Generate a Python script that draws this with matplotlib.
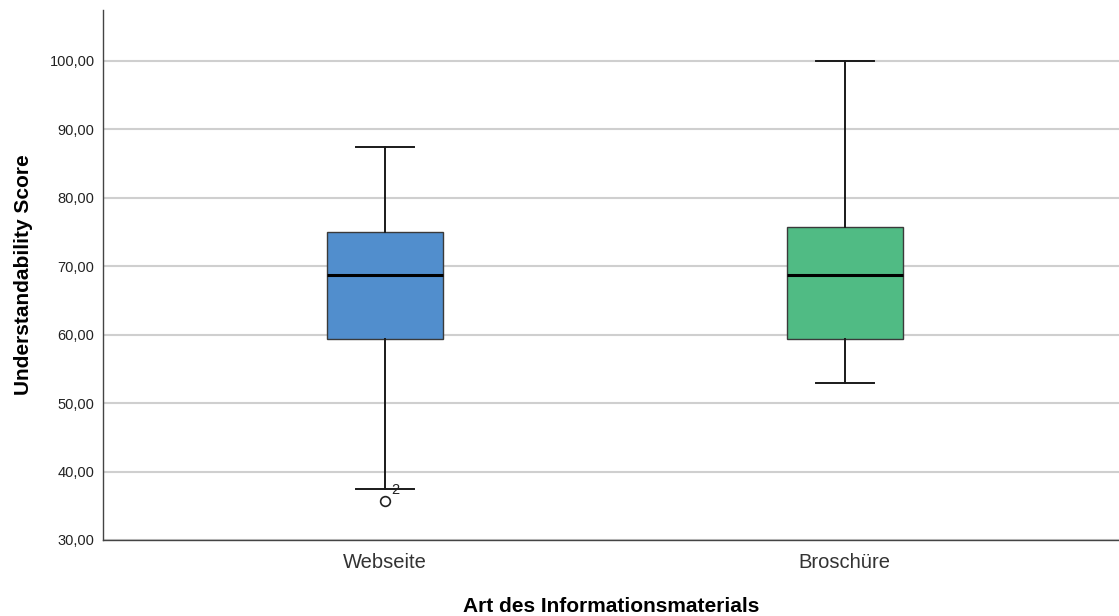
import numpy as np
import matplotlib.pyplot as plt

plt.rcParams['font.family'] = ['Liberation Sans', 'DejaVu Sans']

# Kennwerte der beiden Gruppen
gruppen = ['Webseite', 'Broschüre']
whisker_unten = [37.5, 52.94]
q1 = [59.375, 59.375]
median = [68.75, 68.75]
q3 = [75.0, 75.78]
whisker_oben = [87.5, 100.0]
ausreisser = [[35.71], []]
ausreisser_id = [['2'], []]
farben = ['#518ecd', '#50bb84']
yticks = [30, 40, 50, 60, 70, 80, 90, 100]

fig = plt.figure(figsize=(11.19, 6.16), dpi=100)
ax = fig.add_axes([0.092, 0.1234, 0.908, 0.8604])

stats = []
for i in range(len(gruppen)):
    stats.append({'label': gruppen[i], 'whislo': whisker_unten[i], 'q1': q1[i],
                  'med': median[i], 'q3': q3[i], 'whishi': whisker_oben[i],
                  'fliers': ausreisser[i]})

pos = [0, 1]
bp = ax.bxp(stats, positions=pos, widths=0.252, patch_artist=True, showfliers=True,
            boxprops=dict(edgecolor='#3a3a3a', linewidth=1.0),
            medianprops=dict(color='black', linewidth=2.2),
            whiskerprops=dict(color='#1a1a1a', linewidth=1.4),
            capprops=dict(color='#1a1a1a', linewidth=1.4),
            capwidths=0.126,
            flierprops=dict(marker='o', markerfacecolor='white', markeredgecolor='#222222',
                            markersize=7, markeredgewidth=1.2))
for patch, c in zip(bp['boxes'], farben):
    patch.set_facecolor(c)
for line in bp['medians'] + bp['whiskers'] + bp['caps'] + bp['boxes']:
    line.set_zorder(3)

# Fallnummern der Ausreißer
for i in range(len(gruppen)):
    for wert, fid in zip(ausreisser[i], ausreisser_id[i]):
        ax.annotate(fid, (pos[i], wert), xytext=(4.5, 2.5), textcoords='offset points',
                    fontsize=10.5, color='#222222', va='bottom', ha='left')

ax.set_xlim(-0.613, 1.596)
ax.set_ylim(30, 107.45)
ax.set_yticks(yticks)
ax.set_yticklabels(['%d,00' % t for t in yticks], fontsize=10.5, color='#222222')
ax.set_xticks(pos)
ax.set_xticklabels(gruppen, fontsize=14.5, color='#333333')
ax.tick_params(axis='both', length=0)
ax.tick_params(axis='y', pad=6)
ax.tick_params(axis='x', pad=9.5)

ax.yaxis.grid(True, color='#cfcfcf', linewidth=1.5)
ax.set_axisbelow(True)
for s in ['top', 'right']:
    ax.spines[s].set_visible(False)
for s in ['left', 'bottom']:
    ax.spines[s].set_color('#444444')
    ax.spines[s].set_linewidth(1.0)

ax.set_ylabel('Understandability Score', fontsize=15, fontweight='bold', labelpad=12)
ax.set_xlabel('Art des Informationsmaterials', fontsize=15, fontweight='bold', labelpad=18)

fig.savefig('out.png', dpi=100)
